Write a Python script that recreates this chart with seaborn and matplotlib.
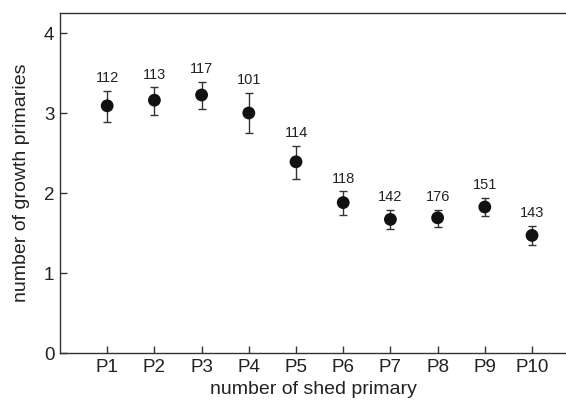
import matplotlib
matplotlib.use('Agg')
import matplotlib.pyplot as plt
import seaborn as sns
import pandas as pd
import numpy as np

# Data
primaries = ['P1', 'P2', 'P3', 'P4', 'P5', 'P6', 'P7', 'P8', 'P9', 'P10']
means = [3.09, 3.16, 3.225, 3.00, 2.39, 1.88, 1.67, 1.69, 1.825, 1.47]
err_lo = [0.20, 0.19, 0.175, 0.25, 0.21, 0.15, 0.12, 0.11, 0.115, 0.12]
err_hi = [0.185, 0.16, 0.165, 0.25, 0.20, 0.14, 0.12, 0.10, 0.115, 0.12]
counts = [112, 113, 117, 101, 114, 118, 142, 176, 151, 143]

df = pd.DataFrame({'primary': primaries, 'pos': np.arange(1, len(primaries) + 1),
                   'mean': means, 'lo': err_lo, 'hi': err_hi, 'n': counts})

sns.set_style('ticks')
plt.rcParams['font.family'] = ['Liberation Sans', 'DejaVu Sans']

fig = plt.figure(figsize=(5.66, 4), dpi=100)
ax = fig.add_axes([0.106, 0.1175, 0.894, 0.85])

ax.errorbar(df['pos'], df['mean'], yerr=[df['lo'], df['hi']], fmt='none',
            ecolor='#333333', elinewidth=1, capsize=3, capthick=1, zorder=2)
sns.scatterplot(data=df, x='pos', y='mean', ax=ax, color='#111111', s=85,
                edgecolor='none', zorder=3, legend=False)

for _, r in df.iterrows():
    ax.annotate(str(r['n']), (r['pos'], r['mean'] + r['hi']), xytext=(0, 4),
                textcoords='offset points', ha='center', va='bottom', fontsize=10.5,
                color='#222222')

ax.set_xlim(0, 10.72)
ax.set_ylim(0, 4.25)
ax.set_xticks(df['pos'])
ax.set_xticklabels(df['primary'])
ax.set_yticks([0, 1, 2, 3, 4])
ax.tick_params(direction='in', length=5, width=1, colors='#333333', labelsize=13.5,
               labelcolor='#222222', pad=4)
ax.set_xlabel('number of shed primary', fontsize=14, color='#222222', labelpad=4)
ax.set_ylabel('number of growth primaries', fontsize=14, color='#222222', labelpad=10)
ax.spines['right'].set_visible(False)
for s in ['left', 'bottom', 'top']:
    ax.spines[s].set_color('#333333')
    ax.spines[s].set_linewidth(1)

fig.savefig('out.png', dpi=100)
plt.close(fig)
